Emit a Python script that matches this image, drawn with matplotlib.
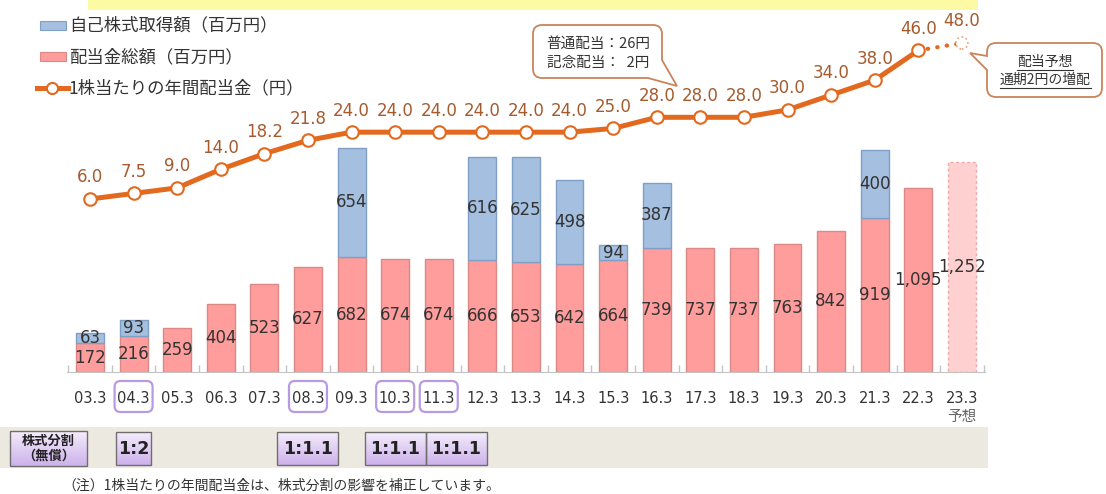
import matplotlib
matplotlib.use("Agg")
import numpy as np
import matplotlib.pyplot as plt
from matplotlib.patches import Rectangle, FancyBboxPatch, PathPatch
from matplotlib.path import Path
from matplotlib.lines import Line2D

plt.rcParams['font.family'] = ['DejaVu Sans', 'Noto Sans CJK JP']
JP = ['Noto Sans CJK JP', 'DejaVu Sans']

# ---- data -------------------------------------------------------------
years = ['03.3', '04.3', '05.3', '06.3', '07.3', '08.3', '09.3', '10.3',
         '11.3', '12.3', '13.3', '14.3', '15.3', '16.3', '17.3', '18.3',
         '19.3', '20.3', '21.3', '22.3', '23.3']
dividend_total = [172, 216, 259, 404, 523, 627, 682, 674, 674, 666, 653,
                  642, 664, 739, 737, 737, 763, 842, 919, 1095, 1252]
buyback = [63, 93, 0, 0, 0, 0, 654, 0, 0, 616, 625, 498, 94, 387, 0, 0,
           0, 0, 400, 0, 0]
dps = [6.0, 7.5, 9.0, 14.0, 18.2, 21.8, 24.0, 24.0, 24.0, 24.0, 24.0,
       24.0, 25.0, 28.0, 28.0, 28.0, 30.0, 34.0, 38.0, 46.0, 48.0]
forecast_year = '23.3'
split_years = ['04.3', '08.3', '10.3', '11.3']
split_ratios = ['1:2', '1:1.1', '1:1.1', '1:1.1']

legend_labels = ['自己株式取得額（百万円）', '配当金総額（百万円）',
                 '1株当たりの年間配当金（円）']
note1_lines = ['普通配当：26円', '記念配当：  2円']
note2_lines = ['配当予想', '通期2円の増配']
split_title = ['株式分割', '（無償）']
footnote = '（注）1株当たりの年間配当金は、株式分割の影響を補正しています。'

# ---- styles -------------------------------------------------------------
PINK, PINK_EDGE = '#FF9D9D', '#D98A86'
PINK_FC, PINK_FC_EDGE = '#FFD0D0', '#F2A6A6'
BLUE, BLUE_EDGE = '#A4BFDF', '#7F9FC6'
ORANGE = '#E2691E'
BROWN = '#A65B2E'
TXT = '#333333'

W, H = 1106, 494
fig = plt.figure(figsize=(W / 100, H / 100), dpi=100)

# decoration layer in pixel coordinates (y down)
deco = fig.add_axes([0, 0, 1, 1], zorder=0)
deco.set_autoscale_on(False)
deco.set_xlim(0, W)
deco.set_ylim(H, 0)
deco.axis('off')

n = len(years)
x = np.arange(n)
tot = np.array(dividend_total, dtype=float)
bb = np.array(buyback, dtype=float)
fc_idx = years.index(forecast_year)

ax = fig.add_axes([67 / W, (H - 372) / H, 918 / W, 352 / H], zorder=1)
ax.patch.set_alpha(0)
ax.set_xlim(-0.5275, 20.53)
ax.set_ylim(0, 2095)

face = [PINK_FC if i == fc_idx else PINK for i in range(n)]
edge = [PINK_FC_EDGE if i == fc_idx else PINK_EDGE for i in range(n)]
bars = ax.bar(x, tot, width=0.64, color=face, edgecolor=edge, linewidth=1.0)
bars[fc_idx].set_linestyle((0, (2, 2)))

has_bb = bb > 0
ax.bar(x[has_bb], bb[has_bb], bottom=tot[has_bb], width=0.64, color=BLUE,
       edgecolor=BLUE_EDGE, linewidth=1.0)

for i in range(n):
    ax.text(x[i], tot[i] / 2, f'{int(tot[i]):,}', ha='center', va='center',
            fontsize=12, color=TXT)
    if bb[i] > 0:
        ax.text(x[i], tot[i] + bb[i] / 2, f'{int(bb[i]):,}', ha='center',
                va='center', fontsize=12, color=TXT)

ax.set_yticks([])
for s in ('top', 'left', 'right'):
    ax.spines[s].set_visible(False)
ax.spines['bottom'].set_color('#C4C4C4')
ax.set_xticks(x, years)
ax.set_xticks(np.arange(-0.5, n, 1.0), minor=True)
ax.tick_params(axis='x', which='major', length=0, pad=14, labelsize=10.5,
               labelcolor=TXT)
ax.tick_params(axis='x', which='minor', direction='in', length=5,
               color='#C4C4C4', width=1)

# dividend per share line
ax2 = ax.twinx()
ax2.set_ylim(-40.58, 54.2)
ax2.set_axis_off()
ax2.plot(x[fc_idx - 1:], dps[fc_idx - 1:], color=ORANGE, lw=3,
         linestyle=(0, (0.1, 2.2)), dash_capstyle='round', zorder=3)
ax2.plot(x[:fc_idx], dps[:fc_idx], color=ORANGE, lw=3.6, marker='o', ms=9,
         mfc='white', mec=ORANGE, mew=1.5, zorder=4)
ax2.scatter([x[fc_idx]], [dps[fc_idx]], s=75, facecolor='white',
            edgecolor='#E5A27C', linestyle=':', linewidth=1.2, zorder=5)
for i in range(n):
    ax2.annotate(f'{dps[i]:.1f}', (x[i], dps[i]), xytext=(0, 15.5),
                 textcoords='offset points', ha='center', va='center',
                 fontsize=12, color=BROWN)


def px(i):
    """Pixel x position (decoration layer) of category index i."""
    return ax.transData.transform((i, 0))[0]


# top yellow strip
deco.add_patch(Rectangle((88, 0), 890, 10, color='#FCFAA2', lw=0))

# legend
deco.add_patch(Rectangle((40, 21), 26, 9, facecolor=BLUE, edgecolor=BLUE_EDGE, lw=0.8))
deco.add_patch(Rectangle((40, 52), 26, 9, facecolor=PINK, edgecolor=PINK_EDGE, lw=0.8))
deco.add_line(Line2D([37, 68], [88, 88], color=ORANGE, lw=3.6))
deco.add_line(Line2D([52], [88], marker='o', ms=8, mfc='white', mec=ORANGE, mew=1.5))
for yy, lab in zip([25, 57, 88], legend_labels):
    deco.text(69, yy, lab, ha='left', va='center', fontsize=12.5, color=TXT,
              family=JP)

# circled tick labels for split years
for yr in split_years:
    cx = px(years.index(yr))
    deco.add_patch(FancyBboxPatch((cx - 16, 384), 32, 25,
                                  boxstyle='round,pad=3,rounding_size=6',
                                  facecolor='none', edgecolor='#B79BE2', lw=1.6))

# forecast marker under the axis
deco.text(px(fc_idx), 417, '予想', ha='center', va='center', fontsize=10.5,
          color='#666666', family=JP)

# share split band
deco.add_patch(Rectangle((0, 427), 988, 41, color='#ECEAE0', lw=0))
grad = np.linspace(0, 1, 64).reshape(-1, 1)
cmap = matplotlib.colors.LinearSegmentedColormap.from_list(
    'lav', ['#F4ECFC', '#CDB2EA'])


def grad_box(x0, y0, w, h):
    deco.imshow(grad, cmap=cmap, extent=[x0, x0 + w, y0 + h, y0],
                aspect='auto', interpolation='bilinear', zorder=2)
    deco.add_patch(Rectangle((x0, y0), w, h, facecolor='none',
                             edgecolor='#6E6E6E', lw=1.0, zorder=3))


grad_box(10, 431, 77, 35)
deco.text(48.5, 441, split_title[0], ha='center', va='center', fontsize=9.5,
          fontweight='bold', color='#222222', family=JP, zorder=4)
deco.text(48.5, 456, split_title[1], ha='center', va='center', fontsize=9.5,
          fontweight='bold', color='#222222', family=JP, zorder=4)

prev_i, prev_right = None, None
for yr, ratio in zip(split_years, split_ratios):
    i = years.index(yr)
    w = 13 * len(ratio) - 4
    if prev_i is not None and i == prev_i + 1:
        x0 = prev_right
    else:
        x0 = px(i) - w / 2
    grad_box(x0, 432, w, 33)
    deco.text(x0 + w / 2, 448.5, ratio, ha='center', va='center',
              fontsize=12.5, fontweight='bold', color='#222222', zorder=4)
    prev_i, prev_right = i, x0 + w

deco.text(62, 486, footnote, ha='left', va='center', fontsize=10,
          color=TXT, family=JP)

# callouts
C = Path.CURVE3
L = Path.LINETO


def rounded_callout(verts_codes, ec):
    verts = [v for v, _ in verts_codes]
    codes = [Path.MOVETO] + [c for _, c in verts_codes[1:]]
    verts.append(verts[0])
    codes.append(Path.CLOSEPOLY)
    deco.add_patch(PathPatch(Path(verts, codes), facecolor='white',
                             edgecolor=ec, lw=1.3, zorder=2))


r = 9
x0, y0, x1, y1 = 533, 25, 662, 78
rounded_callout([
    ((x0 + r, y0), None), ((x1 - r, y0), L), ((x1, y0), C), ((x1, y0 + r), C),
    ((x1, 60), L), ((677, 86), L), ((648, y1), L), ((x0 + r, y1), L),
    ((x0, y1), C), ((x0, y1 - r), C), ((x0, y0 + r), L), ((x0, y0), C),
    ((x0 + r, y0), C)], '#C9845C')
deco.text(598, 44, note1_lines[0], ha='center', va='center', fontsize=10.5,
          color=TXT, family=JP, zorder=3)
deco.text(598, 63, note1_lines[1], ha='center', va='center', fontsize=10.5,
          color=TXT, family=JP, zorder=3)

x0, y0, x1, y1 = 987, 43, 1102, 97
rounded_callout([
    ((x0 + r, y0), None), ((x1 - r, y0), L), ((x1, y0), C), ((x1, y0 + r), C),
    ((x1, y1 - r), L), ((x1, y1), C), ((x1 - r, y1), C), ((x0 + r, y1), L),
    ((x0, y1), C), ((x0, y1 - r), C), ((x0, 70), L), ((970, 53), L),
    ((x0, 56), L), ((x0, y0 + r), L), ((x0, y0), C), ((x0 + r, y0), C)],
    '#C9845C')
renderer = fig.canvas.get_renderer()
for yy, s in zip([62, 80], note2_lines):
    t = deco.text(1045, yy, s, ha='center', va='center', fontsize=10,
                  color=TXT, family=JP, zorder=3)
    bb_ = t.get_window_extent(renderer)
    deco.add_line(Line2D([bb_.x0, bb_.x1], [yy + 8, yy + 8], color=TXT,
                         lw=0.8, zorder=3))

deco.set_xlim(0, W)
deco.set_ylim(H, 0)

fig.savefig('out.png', dpi=100)
